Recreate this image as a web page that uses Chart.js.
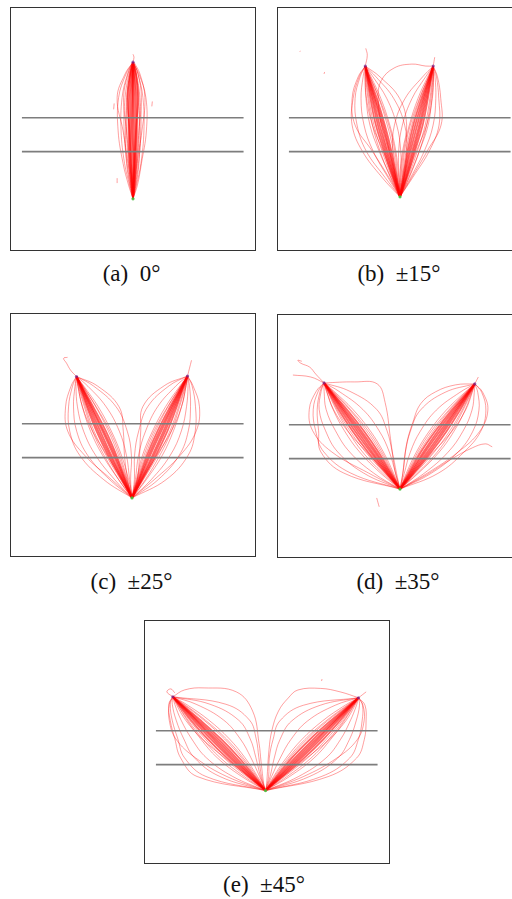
<!DOCTYPE html>
<html>
<head>
<meta charset="utf-8">
<script src="https://cdn.jsdelivr.net/npm/chart.js@4.4.1/dist/chart.umd.min.js"></script>
<style>
  html, body { margin: 0; padding: 0; background: #fff; }
  body { width: 512px; height: 899px; position: relative; overflow: hidden; }
  canvas { position: absolute; }
  .cap {
    position: absolute; width: 140px; text-align: center;
    font-family: "Liberation Serif", "DejaVu Serif", serif; font-size: 23px;
    line-height: 26px; color: #111; white-space: pre;
  }
</style>
</head>
<body>
<script>
// ---- data (arbitrary floor units, start point near x = 0) ----
const captions = ["(a)  0°", "(b)  ±15°", "(c)  ±25°", "(d)  ±35°", "(e)  ±45°"];
const guideY = [13.15, 9.7];
const guideX = [-11.2, 11.15];

const startPts = [[0, 4.9], [0, 5.1], [-0.1, 5.6], [0, 6.6], [-0.15, 7.06]];
const targetPts = [
  [[0, 18.8]],
  [[-3.5, 18.4], [3.35, 18.4]],
  [[-5.7, 17.95], [5.5, 18.0]],
  [[-7.66, 17.4], [7.54, 17.3]],
  [[-9.5, 16.6], [9.23, 16.5]]
];

// (a) 0°
const aY = [4.9, 6.3, 8.5, 11.8, 15.2, 17.6, 18.8];
const aX = [
  [0, 0.05, 0.1, 0.1, 0.05, 0, 0],
  [0, -0.05, -0.1, -0.15, -0.1, -0.05, 0],
  [0, 0.02, 0.05, -0.05, -0.02, 0, 0],
  [0, 0.1, 0.2, 0.25, 0.2, 0.1, 0],
  [0, -0.1, -0.25, -0.3, -0.25, -0.1, 0],
  [0, 0.15, 0.3, 0.4, 0.35, 0.15, 0.02],
  [0, -0.15, -0.35, -0.45, -0.4, -0.2, 0],
  [0, 0.05, 0.15, 0.3, 0.5, 0.3, 0],
  [0, -0.05, -0.2, -0.35, -0.55, -0.3, 0],
  [0, 0.25, 0.55, 0.8, 0.7, 0.35, 0],
  [0, -0.25, -0.6, -0.9, -0.8, -0.4, 0],
  [0, 0.35, 0.8, 1.1, 1.0, 0.5, 0.05],
  [0, -0.35, -0.85, -1.2, -1.1, -0.55, -0.05],
  [0, 0.45, 0.85, 1.35, 1.3, 0.6, 0],
  [0, -0.45, -1.0, -1.5, -1.45, -0.7, 0],
  [0, 0.2, 0.4, 0.9, 1.2, 0.7, 0.1],
  [0, -0.2, -0.5, -1.0, -1.6, -0.8, 0],
  [0, 0.2, 0.45, 0.6, 0.6, 0.3, 0],
  [0, -0.2, -0.45, -0.65, -0.65, -0.3, 0],
  [0, 0.3, 0.6, 0.7, 0.5, 0.25, 0],
  [0, -0.3, -0.65, -0.75, -0.55, -0.25, 0],
  [0, 0.1, 0.35, 0.6, 0.85, 0.5, 0],
  [0, -0.1, -0.35, -0.65, -0.95, -0.5, 0]
];
const aExtra = [
  [[0, 18.8], [0.1, 19.3], [0, 19.6]],
  [[-1.95, 14.0], [-1.9, 14.6]],
  [[1.9, 14.3], [1.95, 14.8]],
  [[-1.6, 6.5], [-1.6, 7.0]]
];

// (b) ±15°
const bY = [5.1, 7.1, 9.8, 12.4, 15.1, 17.3, 18.4];
const bLeftX = [
  [0, -0.48, -1.13, -1.83, -2.58, -3.2, -3.5],
  [0, -0.58, -1.33, -2.05, -2.71, -3.25, -3.5],
  [0, -0.43, -1.03, -1.68, -2.48, -3.17, -3.5],
  [0, -0.63, -1.48, -2.23, -2.83, -3.3, -3.5],
  [0, -0.38, -0.88, -1.53, -2.33, -3.12, -3.5],
  [0, -0.73, -1.63, -2.43, -2.98, -3.34, -3.5],
  [0, -0.93, -2.13, -3.03, -3.43, -3.52, -3.5],
  [0, -1.23, -2.73, -3.63, -3.93, -3.72, -3.5],
  [0, -1.53, -3.43, -4.33, -4.53, -4.02, -3.5],
  [0, -1.83, -3.83, -4.83, -4.73, -4.12, -3.5],
  [0, -1.13, -2.83, -4.53, -4.83, -4.22, -3.5],
  [0, -0.13, -0.43, -1.03, -1.93, -2.92, -3.5],
  [0, 0.07, 0.07, -0.33, -1.33, -2.72, -3.5],
  [0, 0.27, 0.67, 0.47, -0.63, -2.42, -3.5],
  [0, -0.03, 0.27, 0.67, -0.03, -2.02, -3.5],
  [0, -0.83, -1.83, -2.63, -3.13, -3.42, -3.5],
  [0, -0.98, -2.03, -2.78, -3.23, -3.47, -3.5],
  [0, -0.73, -1.73, -2.78, -3.38, -3.52, -3.5],
  [0, -0.28, -0.68, -1.28, -2.13, -3.02, -3.5],
  [0, -0.23, -0.53, -1.13, -2.08, -3.02, -3.5]
];
const bRightX = [
  [0, 0.55, 1.25, 1.94, 2.56, 3.1, 3.35],
  [0, 0.45, 1.07, 1.74, 2.43, 3.05, 3.35],
  [0, 0.62, 1.39, 2.09, 2.69, 3.14, 3.35],
  [0, 0.4, 0.92, 1.54, 2.31, 3.0, 3.35],
  [0, 0.7, 1.52, 2.29, 2.81, 3.18, 3.35],
  [0, 0.35, 0.77, 1.34, 2.16, 2.96, 3.35],
  [0, 0.9, 1.97, 2.84, 3.21, 3.38, 3.35],
  [0, 1.1, 2.47, 3.34, 3.61, 3.53, 3.35],
  [0, 1.3, 2.97, 3.94, 3.91, 3.68, 3.35],
  [0, 1.2, 2.77, 4.14, 4.11, 3.78, 3.35],
  [0, 0.1, 0.37, 0.94, 1.81, 2.78, 3.35],
  [0, -0.1, -0.13, 0.24, 1.21, 2.58, 3.35],
  [0, -0.3, -0.73, -0.56, 0.51, 2.28, 3.35],
  [0, 0.8, 1.77, 2.54, 3.01, 3.28, 3.35],
  [0, 0.95, 1.97, 2.69, 3.11, 3.33, 3.35],
  [0, 0.7, 1.67, 2.69, 3.26, 3.38, 3.35],
  [0, 0.25, 0.62, 1.19, 2.01, 2.88, 3.35],
  [0, 0.2, 0.47, 1.04, 1.96, 2.88, 3.35]
];
const bExtra = [
  [[0, 5.1], [-0.9, 8.5], [-1.8, 12], [-2.2, 15], [-1.9, 16.9], [-0.6, 18.2], [1.2, 18.6], [2.6, 18.4], [3.35, 18.4]],
  [[-3.5, 18.4], [-3.3, 19.5], [-3.45, 20.2]],
  [[3.35, 18.4], [3.5, 19.3]],
  [[-7.66, 17.6], [-7.6, 17.8]],
  [[-10.1, 19.85], [-10.05, 19.95]]
];

// (c) ±25°
const cLeftY = [5.6, 7.45, 9.92, 12.39, 14.86, 16.96, 17.95];
const cLeftX = [
  [-0.1, -0.89, -1.96, -3.08, -4.25, -5.23, -5.7],
  [-0.1, -0.99, -2.18, -3.3, -4.38, -5.28, -5.7],
  [-0.1, -0.82, -1.81, -2.93, -4.15, -5.2, -5.7],
  [-0.1, -1.06, -2.34, -3.5, -4.52, -5.33, -5.7],
  [-0.1, -0.74, -1.66, -2.73, -4.0, -5.15, -5.7],
  [-0.1, -1.14, -2.51, -3.68, -4.65, -5.37, -5.7],
  [-0.1, -1.44, -3.06, -4.28, -5.1, -5.55, -5.7],
  [-0.1, -1.84, -3.76, -4.98, -5.6, -5.75, -5.7],
  [-0.1, -2.34, -4.56, -5.68, -6.0, -5.85, -5.7],
  [-0.1, -2.94, -5.36, -6.38, -6.5, -6.1, -5.7],
  [-0.1, -2.14, -4.86, -6.58, -6.8, -6.25, -5.7],
  [-0.1, -0.44, -1.16, -2.18, -3.5, -4.95, -5.7],
  [-0.1, -0.34, -0.66, -1.38, -2.7, -4.55, -5.7],
  [-0.1, -0.24, -0.16, -0.58, -1.7, -3.95, -5.7],
  [-0.1, -0.54, -0.86, -0.98, -1.4, -3.55, -5.7],
  [-0.1, -1.24, -2.71, -3.93, -4.8, -5.45, -5.7],
  [-0.1, -1.44, -2.91, -4.08, -4.9, -5.5, -5.7],
  [-0.1, -1.14, -2.61, -4.08, -5.1, -5.55, -5.7],
  [-0.1, -0.64, -1.46, -2.48, -3.75, -5.05, -5.7],
  [-0.1, -0.59, -1.31, -2.33, -3.7, -5.03, -5.7]
];
const cRightY = [5.6, 7.46, 9.94, 12.42, 14.9, 17.01, 18.0];
const cRightX = [
  [-0.1, 0.79, 1.96, 3.08, 4.15, 5.07, 5.5],
  [-0.1, 0.69, 1.74, 2.86, 4.02, 5.02, 5.5],
  [-0.1, 0.86, 2.11, 3.26, 4.28, 5.11, 5.5],
  [-0.1, 0.62, 1.58, 2.68, 3.9, 4.97, 5.5],
  [-0.1, 0.94, 2.31, 3.48, 4.42, 5.15, 5.5],
  [-0.1, 0.54, 1.41, 2.48, 3.75, 4.93, 5.5],
  [-0.1, 1.34, 2.96, 4.08, 4.9, 5.35, 5.5],
  [-0.1, 1.84, 3.76, 4.88, 5.4, 5.55, 5.5],
  [-0.1, 2.54, 4.66, 5.58, 5.8, 5.7, 5.5],
  [-0.1, 3.34, 5.56, 6.28, 6.3, 5.95, 5.5],
  [-0.1, 2.14, 4.76, 6.38, 6.7, 6.05, 5.5],
  [-0.1, 0.34, 0.96, 1.98, 3.3, 4.75, 5.5],
  [-0.1, 0.24, 0.56, 1.28, 2.5, 4.35, 5.5],
  [-0.1, 0.14, 0.16, 0.58, 1.5, 3.65, 5.5],
  [-0.1, 0.44, 0.66, 0.78, 1.0, 3.15, 5.5],
  [-0.1, 1.04, 2.51, 3.73, 4.6, 5.25, 5.5],
  [-0.1, 1.24, 2.71, 3.88, 4.7, 5.3, 5.5],
  [-0.1, 0.94, 2.41, 3.88, 4.9, 5.35, 5.5],
  [-0.1, 0.44, 1.26, 2.28, 3.55, 4.85, 5.5],
  [-0.1, 0.39, 1.11, 2.13, 3.5, 4.83, 5.5]
];
const cExtra = [
  [[-5.7, 17.95], [-6.3, 18.6], [-6.7, 19.3], [-7.0, 19.8], [-6.6, 19.9]],
  [[5.5, 18.0], [5.9, 19.6]]
];

// (d) ±35°
const dLeftY = [6.6, 8.22, 10.38, 12.54, 14.7, 16.54, 17.4];
const dLeftX = [
  [0, -1.1, -2.58, -4.11, -5.7, -7.03, -7.66],
  [0, -1.2, -2.8, -4.33, -5.83, -7.08, -7.66],
  [0, -1.0, -2.4, -3.91, -5.55, -6.99, -7.66],
  [0, -1.3, -2.98, -4.56, -6.0, -7.13, -7.66],
  [0, -0.9, -2.18, -3.66, -5.35, -6.93, -7.66],
  [0, -1.4, -3.23, -4.81, -6.2, -7.2, -7.66],
  [0, -1.95, -4.08, -5.61, -6.75, -7.4, -7.66],
  [0, -2.65, -5.08, -6.51, -7.45, -7.65, -7.66],
  [0, -3.65, -6.28, -7.51, -8.15, -7.95, -7.66],
  [0, -4.95, -7.68, -8.51, -8.75, -8.25, -7.66],
  [0, -3.15, -6.88, -8.81, -9.15, -8.45, -7.66],
  [0, -5.65, -7.98, -8.21, -8.35, -8.05, -7.66],
  [0, -0.65, -1.68, -3.01, -4.75, -6.65, -7.66],
  [0, -0.45, -1.08, -2.11, -3.75, -6.15, -7.66],
  [0, -0.35, -0.78, -1.31, -2.35, -5.05, -7.66],
  [0, -1.55, -3.48, -5.06, -6.35, -7.25, -7.66],
  [0, -1.75, -3.78, -5.26, -6.45, -7.3, -7.66],
  [0, -1.45, -3.38, -5.31, -6.7, -7.4, -7.66],
  [0, -0.8, -1.98, -3.41, -5.1, -6.8, -7.66],
  [0, -0.75, -1.83, -3.21, -5.0, -6.75, -7.66]
];
const dRightY = [6.6, 8.2, 10.35, 12.49, 14.63, 16.44, 17.3];
const dRightX = [
  [0, 1.18, 2.74, 4.25, 5.71, 6.96, 7.54],
  [0, 1.08, 2.52, 4.03, 5.58, 6.91, 7.54],
  [0, 1.28, 2.94, 4.45, 5.86, 7.0, 7.54],
  [0, 0.98, 2.34, 3.8, 5.41, 6.86, 7.54],
  [0, 1.38, 3.14, 4.7, 6.06, 7.06, 7.54],
  [0, 0.88, 2.09, 3.55, 5.21, 6.79, 7.54],
  [0, 1.83, 3.94, 5.45, 6.56, 7.24, 7.54],
  [0, 2.43, 4.84, 6.35, 7.26, 7.49, 7.54],
  [0, 3.13, 5.84, 7.35, 7.96, 7.84, 7.54],
  [0, 3.83, 6.44, 8.15, 8.66, 8.24, 7.54],
  [0, 2.73, 5.84, 8.05, 8.86, 8.34, 7.54],
  [0, 0.63, 1.64, 2.95, 4.66, 6.54, 7.54],
  [0, 0.43, 1.04, 2.05, 3.66, 6.04, 7.54],
  [0, 0.28, 0.54, 1.05, 2.06, 4.54, 7.54],
  [0, 1.53, 3.44, 5.0, 6.26, 7.14, 7.54],
  [0, 1.73, 3.74, 5.2, 6.36, 7.19, 7.54],
  [0, 1.43, 3.34, 5.25, 6.61, 7.29, 7.54],
  [0, 0.78, 1.94, 3.35, 5.01, 6.69, 7.54],
  [0, 0.73, 1.79, 3.15, 4.91, 6.64, 7.54]
];
const dExtra = [
  [[0, 6.6], [-0.5, 8.45], [-0.96, 11.75], [-1.5, 15.4], [-2.3, 17.3], [-4.56, 17.5], [-7.66, 17.4]],
  [[-7.66, 17.4], [-8.5, 18.3], [-9.1, 19.0], [-10.0, 19.4], [-10.3, 19.7], [-9.9, 19.6]],
  [[-7.66, 17.4], [-9.0, 18.0], [-10.8, 18.2]],
  [[0, 6.6], [0.33, 8.45], [0.65, 11.1], [1.3, 13.4], [2.1, 15.3], [3.6, 16.5], [5.6, 17.2], [7.54, 17.3]],
  [[0, 6.6], [2.6, 8.0], [5.1, 9.6], [7.3, 10.8], [8.6, 11.2], [9.3, 10.9]],
  [[7.54, 17.3], [7.9, 18.0]],
  [[-2.35, 5.7], [-2.1, 4.8]]
];

// (e) ±45°
const eLeftY = [7.06, 8.49, 10.4, 12.31, 14.22, 15.84, 16.6];
const eLeftX = [
  [-0.15, -1.5, -3.32, -5.19, -7.11, -8.73, -9.5],
  [-0.15, -1.6, -3.54, -5.41, -7.24, -8.78, -9.5],
  [-0.15, -1.37, -3.1, -4.94, -6.94, -8.68, -9.5],
  [-0.15, -1.73, -3.77, -5.67, -7.43, -8.84, -9.5],
  [-0.15, -1.25, -2.82, -4.64, -6.71, -8.61, -9.5],
  [-0.15, -1.85, -4.07, -5.99, -7.66, -8.91, -9.5],
  [-0.15, -2.55, -5.02, -6.69, -8.06, -9.05, -9.5],
  [-0.15, -3.45, -6.12, -7.59, -8.66, -9.3, -9.5],
  [-0.15, -4.75, -7.32, -8.39, -9.16, -9.55, -9.5],
  [-0.15, -6.15, -8.32, -8.99, -9.56, -9.75, -9.5],
  [-0.15, -7.05, -8.72, -9.29, -9.76, -9.9, -9.5],
  [-0.15, -4.05, -7.22, -9.19, -9.86, -9.85, -9.5],
  [-0.15, -0.95, -2.22, -3.79, -5.86, -8.15, -9.5],
  [-0.15, -0.75, -1.62, -2.69, -4.36, -7.15, -9.5],
  [-0.15, -0.65, -1.12, -1.69, -2.86, -5.75, -9.5],
  [-0.15, -0.55, -0.82, -1.09, -1.76, -4.15, -9.5],
  [-0.15, -2.05, -4.37, -6.24, -7.81, -8.97, -9.5],
  [-0.15, -2.3, -4.72, -6.49, -7.96, -9.03, -9.5],
  [-0.15, -1.9, -4.27, -6.54, -8.21, -9.15, -9.5],
  [-0.15, -1.15, -2.57, -4.29, -6.36, -8.45, -9.5],
  [-0.15, -1.05, -2.42, -4.09, -6.21, -8.35, -9.5]
];
const eRightY = [7.06, 8.48, 10.36, 12.25, 14.14, 15.74, 16.5];
const eRightX = [
  [-0.15, 1.31, 3.23, 5.11, 6.94, 8.5, 9.23],
  [-0.15, 1.21, 3.01, 4.89, 6.81, 8.45, 9.23],
  [-0.15, 1.44, 3.45, 5.36, 7.11, 8.55, 9.23],
  [-0.15, 1.08, 2.78, 4.63, 6.62, 8.39, 9.23],
  [-0.15, 1.56, 3.73, 5.66, 7.34, 8.62, 9.23],
  [-0.15, 0.96, 2.48, 4.31, 6.39, 8.32, 9.23],
  [-0.15, 2.26, 4.73, 6.41, 7.79, 8.78, 9.23],
  [-0.15, 3.16, 5.93, 7.41, 8.39, 9.03, 9.23],
  [-0.15, 4.26, 7.13, 8.31, 8.99, 9.33, 9.23],
  [-0.15, 5.46, 8.33, 9.21, 9.59, 9.63, 9.23],
  [-0.15, 6.16, 9.03, 9.81, 9.99, 9.88, 9.23],
  [-0.15, 3.66, 7.03, 9.11, 9.79, 9.68, 9.23],
  [-0.15, 0.66, 1.93, 3.51, 5.59, 7.88, 9.23],
  [-0.15, 0.46, 1.33, 2.41, 4.09, 6.88, 9.23],
  [-0.15, 0.31, 0.73, 1.31, 2.49, 5.38, 9.23],
  [-0.15, 0.16, 0.23, 0.61, 1.29, 3.68, 9.23],
  [-0.15, 1.76, 4.08, 5.96, 7.54, 8.7, 9.23],
  [-0.15, 2.01, 4.43, 6.21, 7.69, 8.76, 9.23],
  [-0.15, 1.61, 3.98, 6.26, 7.94, 8.88, 9.23],
  [-0.15, 0.86, 2.28, 4.01, 6.09, 8.18, 9.23],
  [-0.15, 0.76, 2.13, 3.81, 5.94, 8.08, 9.23]
];
const eExtra = [
  [[-0.15, 7.06], [-0.31, 7.6], [-0.6, 10], [-0.8, 11.85], [-1.45, 15.15], [-3.1, 17.1], [-6.35, 17.5], [-8.3, 17.3], [-9.5, 16.6]],
  [[-0.15, 7.06], [-0.05, 7.57], [0.2, 11.2], [0.5, 13.2], [1.16, 15.15], [2.14, 16.47], [3.12, 17.29], [5.41, 17.45], [7.37, 17.1], [9.23, 16.5]],
  [[-9.5, 16.6], [-10.1, 17.1], [-9.7, 17.4], [-9.3, 17.0]],
  [[9.23, 16.5], [10.0, 17.1]],
  [[5.5, 18.2], [5.55, 18.4]]
];

// ---- drawing ----
const zip = (xs, ys) => xs.map((x, i) => ({ x: x, y: ys[i] }));
const pairs = (p) => p.map(q => ({ x: q[0], y: q[1] }));

// the first few rows of each bundle are the dense core, drawn heavier
const trajDs = (pts, core) => ({
  data: pts, showLine: true, pointRadius: 0, tension: 0.4,
  borderColor: core ? "rgba(255, 0, 0, 0.6)" : "rgba(255, 0, 0, 0.42)",
  borderWidth: core ? 1.7 : 0.9
});

const frame = {
  id: "frame",
  afterDraw(chart) {
    const c = chart.ctx;
    c.save();
    c.strokeStyle = "#333";
    c.lineWidth = 1;
    c.strokeRect(0.5, 0.5, chart.width - 1, chart.height - 1);
    c.restore();
  }
};

function makePanel(n, left, top, bundles, extras, capX, capY) {
  const cv = document.createElement("canvas");
  cv.width = 246; cv.height = 244;
  cv.style.left = left + "px"; cv.style.top = top + "px";
  document.body.appendChild(cv);

  const datasets = [];
  guideY.forEach(y => datasets.push({
    data: [{ x: guideX[0], y: y }, { x: guideX[1], y: y }],
    showLine: true, pointRadius: 0, borderColor: "#7d7d7d", borderWidth: 1.6
  }));
  datasets.push({
    data: pairs([startPts[n]]), pointRadius: 1.6, borderWidth: 0,
    backgroundColor: "rgba(70, 190, 60, 0.9)"
  });
  datasets.push({
    data: pairs(targetPts[n]), pointRadius: 1.6, borderWidth: 0,
    backgroundColor: "rgba(110, 40, 150, 0.7)"
  });
  bundles.forEach(b => b[1].forEach((xs, i) => datasets.push(trajDs(zip(xs, b[0]), i < b[2]))));
  extras.forEach(p => datasets.push(trajDs(pairs(p), false)));

  new Chart(cv.getContext("2d"), {
    type: "scatter",
    data: { datasets: datasets },
    options: {
      responsive: false, animation: false,
      layout: { padding: 0 },
      plugins: { legend: { display: false }, tooltip: { enabled: false } },
      scales: {
        x: { display: false, min: -12, max: 12 },
        y: { display: false, min: 0, max: 24 }
      }
    },
    plugins: [frame]
  });

  const cap = document.createElement("div");
  cap.className = "cap";
  cap.textContent = captions[n];
  cap.style.left = (capX - 70) + "px";
  cap.style.top = (capY - 13) + "px";
  document.body.appendChild(cap);
}

makePanel(0, 10, 7, [[aY, aX, 9]], aExtra, 131.5, 274);
makePanel(1, 277, 7, [[bY, bLeftX, 6], [bY, bRightX, 6]], bExtra, 399, 274);
makePanel(2, 10, 313, [[cLeftY, cLeftX, 6], [cRightY, cRightX, 6]], cExtra, 131.5, 582);
makePanel(3, 277, 314, [[dLeftY, dLeftX, 6], [dRightY, dRightX, 6]], dExtra, 398, 582);
makePanel(4, 144, 620, [[eLeftY, eLeftX, 6], [eRightY, eRightX, 6]], eExtra, 264, 885);
</script>
</body>
</html>
